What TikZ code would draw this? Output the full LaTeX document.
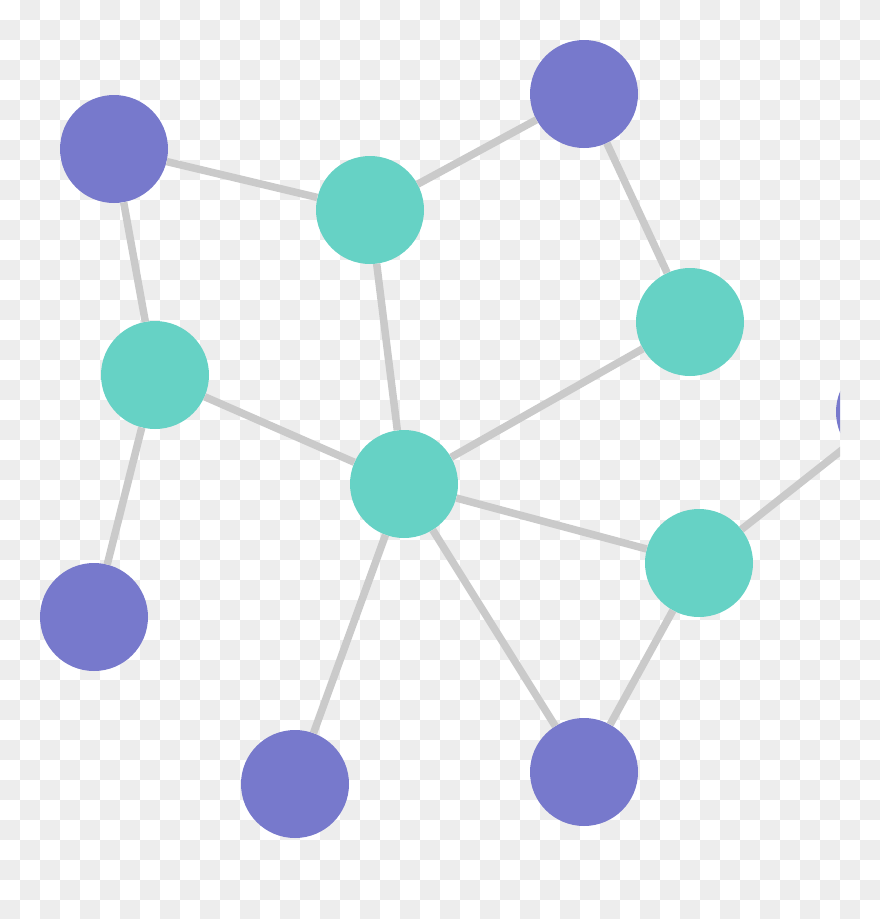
\documentclass[tikz,border=0pt]{standalone}
\definecolor{chk}{HTML}{EDEDED}
\definecolor{purp}{HTML}{7779CC}
\definecolor{teal2}{HTML}{66D2C5}
\definecolor{edgegrey}{HTML}{CACACA}
\tikzset{
  pnode/.style={circle,fill=purp,minimum size=108pt,inner sep=0pt},
  tnode/.style={circle,fill=teal2,minimum size=108pt,inner sep=0pt},
  link/.style={draw=edgegrey,line width=7.5pt}
}
\begin{document}
\begin{tikzpicture}[x=1pt,y=-1pt]
\useasboundingbox (0,0) rectangle (880,919);
\fill[white] (0,0) rectangle (880,919);
\foreach \j in {0,2,...,44} \foreach \i in {1,3,...,43} \fill[chk] (\i*20,\j*20) rectangle ++(20,20);
\foreach \j in {1,3,...,45} \foreach \i in {0,2,...,42} \fill[chk] (\i*20,\j*20) rectangle ++(20,20);
\begin{scope}
\clip (0,0) rectangle (840,919);
\node[pnode] (p1) at (114,149) {};
\node[pnode] (p2) at (584,94) {};
\node[pnode] (p3) at (94,617) {};
\node[pnode] (p4) at (295,784) {};
\node[pnode] (p5) at (584,772) {};
\node[pnode] (p6) at (890,412) {};
\node[tnode] (t1) at (370,210) {};
\node[tnode] (t2) at (690,322) {};
\node[tnode] (t3) at (155,375) {};
\node[tnode] (t4) at (404,484) {};
\node[tnode] (t5) at (699,563) {};
\draw[link] (p1) -- (t1);
\draw[link] (t1) -- (p2);
\draw[link] (p2) -- (t2);
\draw[link] (p1) -- (t3);
\draw[link] (t1) -- (t4);
\draw[link] (t3) -- (t4);
\draw[link] (t4) -- (t2);
\draw[link] (t4) -- (t5);
\draw[link] (t3) -- (p3);
\draw[link] (t4) -- (p4);
\draw[link] (t4) -- (p5);
\draw[link] (t5) -- (p5);
\draw[link] (t5) -- (p6);
\end{scope}
\end{tikzpicture}
\end{document}
